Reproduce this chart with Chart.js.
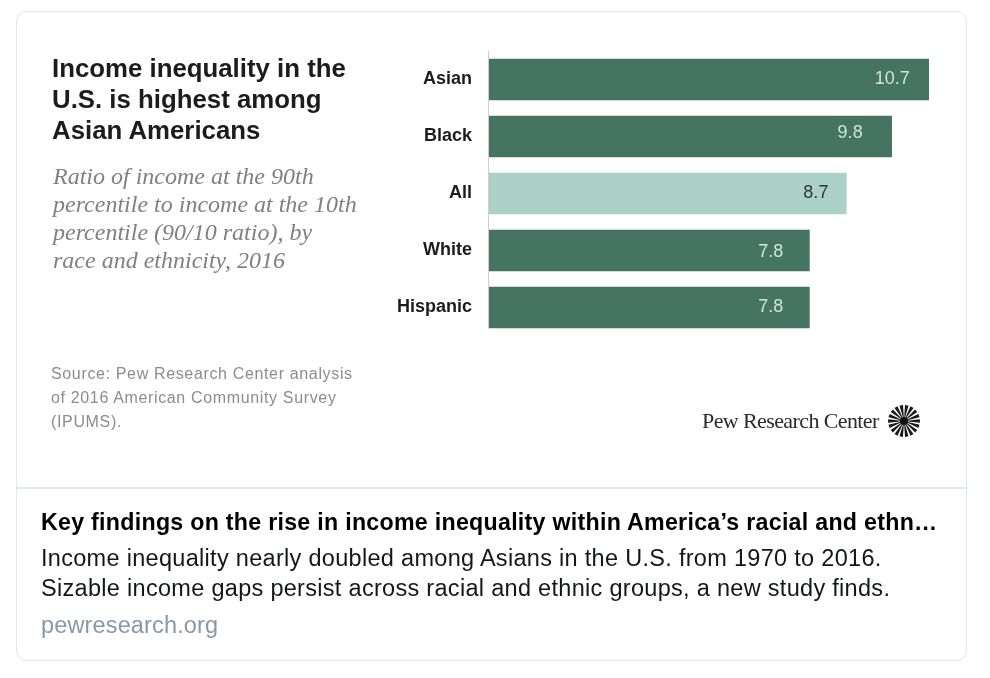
<!DOCTYPE html>
<html>
<head>
<meta charset="utf-8">
<script src="https://cdn.jsdelivr.net/npm/chart.js@4"></script>
<style>
  html, body { margin: 0; padding: 0; background: #fff; }
  body { position: relative; width: 990px; height: 678px; overflow: hidden; font-family: "Liberation Sans", sans-serif; }
  #card { position: absolute; left: 16px; top: 11px; width: 949px; height: 648px; border: 1.5px solid #e1e8ed; border-radius: 10px; box-sizing: content-box; }
  #divider { position: absolute; left: 16px; top: 487px; width: 950px; height: 1.5px; background: #e1e8ed; }
  #chart { position: absolute; left: 0; top: 0; width: 990px; height: 678px; }
  .t { position: absolute; white-space: nowrap; }
  .title { left: 52px; font-weight: bold; font-size: 25.8px; line-height: 31px; color: #1c1c1c; }
  .sub { left: 53px; font-family: "Liberation Serif", serif; font-style: italic; font-size: 24px; color: #808080; line-height: 28px; }
  .src { left: 51px; font-size: 16px; color: #8c8c8c; line-height: 24px; letter-spacing: 0.65px; }
  .foot { left: 41px; font-size: 23.5px; letter-spacing: 0.3px; color: #14171a; line-height: 30px; }
  #logoText { left: 702px; top: 407px; font-family: "Liberation Serif", serif; font-size: 22px; letter-spacing: -0.6px; color: #2b2b2b; line-height: 28px; }
  #logoMark { position: absolute; left: 887px; top: 404px; }
</style>
</head>
<body>
<div id="card"></div>
<div id="divider"></div>
<canvas id="chart" width="990" height="678"></canvas>

<div class="t title" style="top:53px">Income inequality in the</div>
<div class="t title" style="top:84px">U.S. is highest among</div>
<div class="t title" style="top:115px">Asian Americans</div>

<div class="t sub" style="top:162px">Ratio of income at the 90th</div>
<div class="t sub" style="top:190px">percentile to income at the 10th</div>
<div class="t sub" style="top:218px">percentile (90/10 ratio), by</div>
<div class="t sub" style="top:246px">race and ethnicity, 2016</div>

<div class="t src" style="top:362px">Source: Pew Research Center analysis</div>
<div class="t src" style="top:386px">of 2016 American Community Survey</div>
<div class="t src" style="top:410px">(IPUMS).</div>

<div class="t" id="logoText">Pew Research Center</div>
<svg id="logoMark" width="34" height="34" viewBox="-17 -17 34 34"></svg>

<div class="t foot" style="top:507px;font-weight:bold;color:#000;font-size:23.2px;letter-spacing:0.28px">Key findings on the rise in income inequality within America’s racial and ethn…</div>
<div class="t foot" style="top:543px">Income inequality nearly doubled among Asians in the U.S. from 1970 to 2016.</div>
<div class="t foot" style="top:573px">Sizable income gaps persist across racial and ethnic groups, a new study finds.</div>
<div class="t foot" style="top:610px;color:#8899a6;letter-spacing:0.15px">pewresearch.org</div>

<script>
const categories = ["Asian", "Black", "All", "White", "Hispanic"];
const ratios = [10.7, 9.8, 8.7, 7.8, 7.8];
const barColors = ["#457463", "#457463", "#acd2c8", "#457463", "#457463"];
const valueColors = ["#cfe3dc", "#cfe3dc", "#2b3a36", "#cfe3dc", "#cfe3dc"];
// value labels are not evenly placed in the original
const labelInset = [19, 29, 18, 26, 26];
const labelNudgeY = [0, -3, 0, 2, 0];

// sunburst next to the logo text, wedges get wider going out
const logo = document.getElementById("logoMark");
const rays = 18;
for (let i = 0; i < rays; i++) {
    const a = i * 2 * Math.PI / rays;
    const w = 0.11;
    const wedge = document.createElementNS("http://www.w3.org/2000/svg", "polygon");
    const pts = [[0, 0], [16 * Math.cos(a - w), 16 * Math.sin(a - w)], [16 * Math.cos(a + w), 16 * Math.sin(a + w)]];
    wedge.setAttribute("points", pts.map(p => p.join(",")).join(" "));
    wedge.setAttribute("fill", "#1a1a1a");
    logo.appendChild(wedge);
}
const hub = document.createElementNS("http://www.w3.org/2000/svg", "circle");
hub.setAttribute("r", "4");
hub.setAttribute("fill", "#111");
logo.appendChild(hub);

// axis line stops at the last bar, value labels sit inside the bar end
const barExtras = {
    id: "barExtras",
    afterDatasetsDraw(chart) {
        const ctx = chart.ctx;
        const bars = chart.getDatasetMeta(0).data;
        const last = bars[bars.length - 1];
        ctx.save();
        ctx.strokeStyle = "#d9c9c9";
        ctx.lineWidth = 1;
        ctx.beginPath();
        ctx.moveTo(chart.chartArea.left, chart.chartArea.top);
        ctx.lineTo(chart.chartArea.left, last.y + last.height / 2);
        ctx.stroke();

        ctx.font = "18px 'Liberation Sans'";
        ctx.textAlign = "right";
        ctx.textBaseline = "middle";
        bars.forEach((bar, i) => {
            ctx.fillStyle = valueColors[i];
            ctx.fillText(ratios[i].toFixed(1), bar.x - labelInset[i], bar.y + labelNudgeY[i]);
        });
        ctx.restore();
    }
};

new Chart(document.getElementById("chart"), {
    type: "bar",
    data: {
        labels: categories,
        datasets: [{
            data: ratios,
            backgroundColor: barColors,
            barThickness: 41,
            borderWidth: 0
        }]
    },
    options: {
        indexAxis: "y",
        responsive: false,
        animation: false,
        layout: { padding: { top: 51, right: 49, bottom: 342, left: 0 } },
        plugins: {
            legend: { display: false },
            tooltip: { enabled: false }
        },
        scales: {
            x: {
                display: false,
                min: 0,
                max: 11,
                grid: { display: false }
            },
            y: {
                afterFit(scale) { scale.width = 488.5; },
                grid: { display: false, drawTicks: false },
                border: { display: false },
                ticks: {
                    color: "#1c1c1c",
                    padding: 16.5,
                    font: { family: "'Liberation Sans'", size: 18, weight: "bold" }
                }
            }
        }
    },
    plugins: [barExtras]
});
</script>
</body>
</html>
